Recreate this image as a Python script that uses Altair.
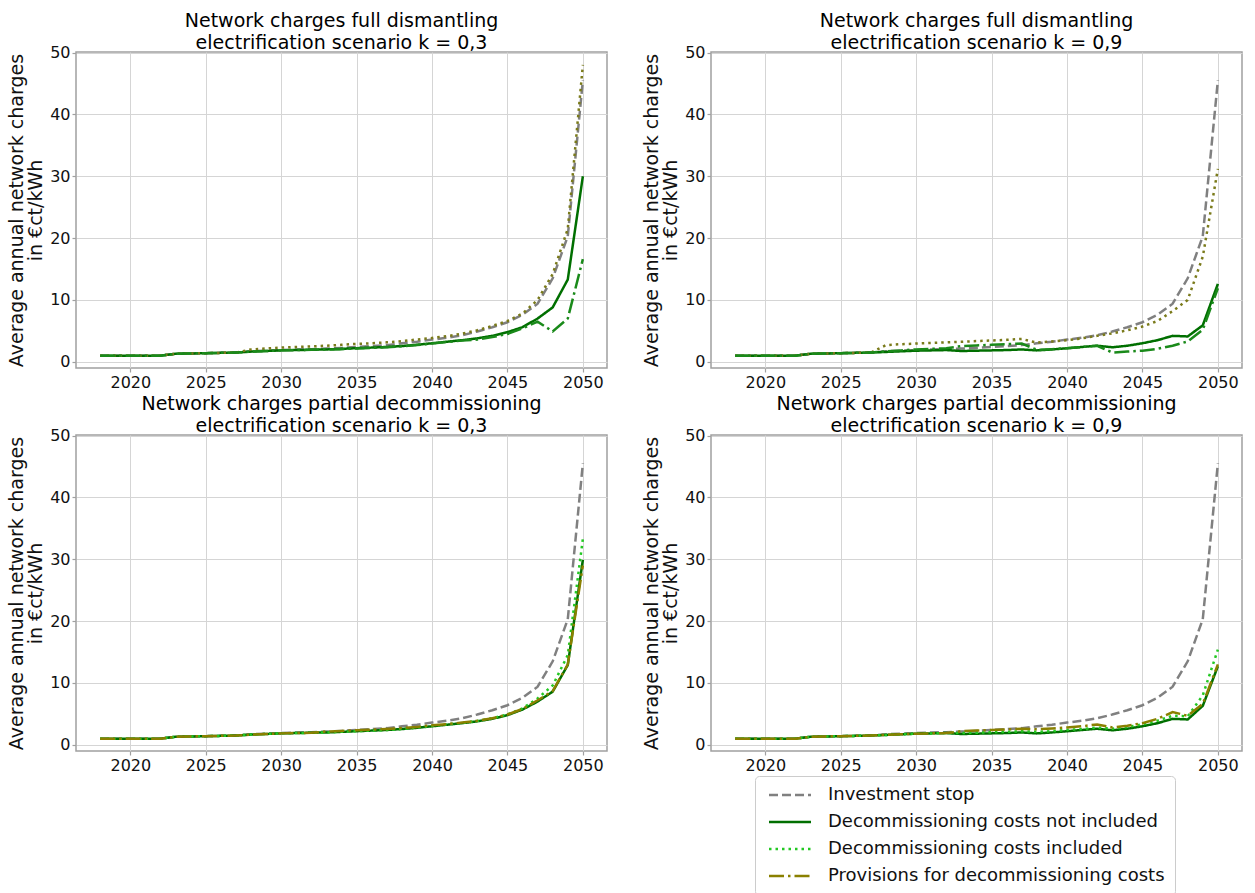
import altair as alt
import pandas as pd

YEARS = list(range(2018, 2051))
SERIES = [
    "Investment stop",
    "Decommissioning costs not included",
    "Decommissioning costs included",
    "Provisions for decommissioning costs",
]

# Investment stop (same in every panel)
INV = [1.0, 1.0, 1.0, 1.0, 1.0, 1.3, 1.35, 1.4, 1.45, 1.5,
       1.7, 1.8, 1.9, 2.0, 2.05, 2.15, 2.25, 2.4, 2.55, 2.7,
       3.0, 3.25, 3.6, 3.9, 4.3, 4.9, 5.6, 6.4, 7.6, 9.4,
       13.5, 20.3, 45.5]

# Full dismantling, k = 0,3
FD03_NOT = [1.0, 1.0, 1.0, 1.0, 1.0, 1.3, 1.35, 1.4, 1.45, 1.5,
            1.65, 1.75, 1.85, 1.9, 1.95, 2.0, 2.1, 2.2, 2.3, 2.4,
            2.55, 2.75, 3.0, 3.25, 3.5, 3.8, 4.2, 4.8, 5.6, 7.0,
            8.8, 13.3, 30.0]
FD03_INC = [1.0, 1.0, 1.0, 1.0, 1.0, 1.3, 1.35, 1.4, 1.45, 1.5,
            2.0, 2.15, 2.3, 2.4, 2.5, 2.6, 2.75, 2.9, 3.0, 3.15,
            3.35, 3.6, 3.85, 4.15, 4.55, 5.1, 5.8, 6.6, 7.8, 10.0,
            14.2, 21.5, 48.0]
FD03_PROV = [1.0, 1.0, 1.0, 1.0, 1.0, 1.3, 1.35, 1.4, 1.45, 1.5,
             1.65, 1.75, 1.85, 1.9, 1.95, 2.0, 2.05, 2.15, 2.25, 2.35,
             2.5, 2.7, 2.95, 3.2, 3.45, 3.6, 4.0, 4.5, 5.4, 6.5,
             4.9, 7.0, 16.6]

# Full dismantling, k = 0,9
FD09_NOT = [1.0, 1.0, 1.0, 1.0, 1.0, 1.3, 1.35, 1.4, 1.45, 1.5,
            1.6, 1.7, 1.8, 1.85, 1.9, 1.75, 1.8, 1.85, 1.9, 2.0,
            1.85, 2.0, 2.2, 2.4, 2.6, 2.35, 2.6, 3.0, 3.5, 4.2,
            4.1, 5.9, 12.6]
FD09_INC = [1.0, 1.0, 1.0, 1.0, 1.0, 1.3, 1.35, 1.4, 1.45, 1.5,
            2.7, 2.85, 2.95, 3.05, 3.15, 3.25, 3.35, 3.45, 3.55, 3.7,
            3.1, 3.3, 3.5, 3.8, 4.2, 4.6, 5.1, 5.7, 6.6, 8.2,
            10.0, 17.0, 31.2]
FD09_PROV = [1.0, 1.0, 1.0, 1.0, 1.0, 1.3, 1.35, 1.4, 1.45, 1.5,
             1.7, 1.85, 2.0, 2.1, 2.2, 2.55, 2.65, 2.75, 2.85, 2.95,
             1.95, 2.05, 2.2, 2.4, 2.6, 1.5, 1.65, 1.8, 2.1, 2.6,
             3.3, 5.2, 11.9]

# Partial decommissioning, k = 0,3
PD03_NOT = [1.0, 1.0, 1.0, 1.0, 1.0, 1.3, 1.35, 1.4, 1.45, 1.5,
            1.65, 1.75, 1.85, 1.9, 1.95, 2.0, 2.1, 2.2, 2.3, 2.4,
            2.55, 2.75, 3.0, 3.25, 3.5, 3.8, 4.2, 4.8, 5.7, 7.0,
            8.6, 12.9, 29.9]
PD03_INC = [1.0, 1.0, 1.0, 1.0, 1.0, 1.3, 1.35, 1.4, 1.45, 1.5,
            1.65, 1.75, 1.85, 1.9, 1.95, 2.0, 2.1, 2.2, 2.3, 2.4,
            2.55, 2.8, 3.05, 3.3, 3.55, 3.85, 4.3, 4.9, 5.9, 7.5,
            9.6, 14.5, 33.3]
PD03_PROV = [1.0, 1.0, 1.0, 1.0, 1.0, 1.3, 1.35, 1.4, 1.45, 1.5,
             1.65, 1.75, 1.85, 1.9, 1.95, 2.15, 2.25, 2.35, 2.45, 2.55,
             2.7, 2.9, 3.15, 3.35, 3.6, 3.9, 4.3, 4.9, 5.8, 7.2,
             8.7, 13.0, 29.0]

# Partial decommissioning, k = 0,9
PD09_NOT = [1.0, 1.0, 1.0, 1.0, 1.0, 1.3, 1.35, 1.4, 1.45, 1.5,
            1.6, 1.7, 1.8, 1.85, 1.9, 1.75, 1.8, 1.85, 1.9, 2.0,
            1.85, 2.0, 2.2, 2.4, 2.6, 2.35, 2.6, 3.0, 3.5, 4.2,
            4.1, 6.3, 12.7]
PD09_INC = [1.0, 1.0, 1.0, 1.0, 1.0, 1.3, 1.35, 1.4, 1.45, 1.5,
            1.6, 1.7, 1.8, 1.85, 1.9, 1.9, 1.95, 2.05, 2.1, 2.2,
            2.1, 2.2, 2.4, 2.55, 2.8, 2.6, 2.9, 3.3, 3.9, 4.7,
            4.6, 8.0, 15.4]
PD09_PROV = [1.0, 1.0, 1.0, 1.0, 1.0, 1.3, 1.35, 1.4, 1.45, 1.5,
             1.6, 1.7, 1.8, 1.85, 1.9, 2.2, 2.3, 2.4, 2.5, 2.6,
             2.5, 2.65, 2.8, 3.0, 3.3, 2.8, 3.1, 3.5, 4.2, 5.3,
             4.7, 6.6, 13.0]

X_TICKS = [2020, 2025, 2030, 2035, 2040, 2045, 2050]
Y_TICKS = [0, 10, 20, 30, 40, 50]
Y_TITLE = ["Average annual network charges", "in €ct/kWh"]

COLORS_TOP = ["#808080", "#006f00", "#7a7a1a", "#1a8a1a"]
COLORS_BOTTOM = ["#808080", "#006f00", "#22c822", "#8a8000"]
DASHES = [[9, 4], [1, 0], [2.5, 4], [15, 4, 2.5, 4]]

FONT = "DejaVu Sans"
W, H = 531, 316


def panel(values, title, colors, legend=None):
    rows = []
    for name, vals in zip(SERIES, values):
        for yr, v in zip(YEARS, vals):
            rows.append({"year": yr, "value": v, "series": name})
    df = pd.DataFrame(rows)
    color_kw = dict(scale=alt.Scale(domain=SERIES, range=colors))
    dash_kw = dict(scale=alt.Scale(domain=SERIES, range=DASHES))
    if legend is None:
        color_kw["legend"] = None
        dash_kw["legend"] = None
    else:
        color_kw["legend"] = legend
        dash_kw["legend"] = legend
    return (
        alt.Chart(df)
        .mark_line(strokeWidth=2.5, clip=True)
        .encode(
            x=alt.X("year:Q",
                    scale=alt.Scale(domain=[2016.4, 2051.6], nice=False, zero=False),
                    axis=alt.Axis(values=X_TICKS, format="d", title=None)),
            y=alt.Y("value:Q",
                    scale=alt.Scale(domain=[-1.0, 50.1], nice=False, zero=False),
                    axis=alt.Axis(values=Y_TICKS, title=Y_TITLE)),
            color=alt.Color("series:N", **color_kw),
            strokeDash=alt.StrokeDash("series:N", **dash_kw),
            order=alt.Order("year:Q"),
        )
        .properties(
            width=W, height=H,
            title=alt.TitleParams(text=title, anchor="middle", frame="group",
                                  fontSize=19, lineHeight=22, offset=-8,
                                  font=FONT, fontWeight="normal", color="black"),
        )
    )


legend = alt.Legend(
    title=None, orient="none", legendX=44, legendY=341,
    symbolType="M-1,0H7.4", symbolSize=100, symbolStrokeWidth=2.5,
    labelFontSize=18, labelFont=FONT, labelColor="#111111", labelOffset=45,
    rowPadding=9, padding=10, strokeColor="#cccccc", fillColor="white",
    cornerRadius=4, labelLimit=400,
)

tl = panel([INV, FD03_NOT, FD03_INC, FD03_PROV],
           ["Network charges full dismantling", " electrification scenario k = 0,3"], COLORS_TOP)
tr = panel([INV, FD09_NOT, FD09_INC, FD09_PROV],
           ["Network charges full dismantling", " electrification scenario k = 0,9"], COLORS_TOP)
bl = panel([INV, PD03_NOT, PD03_INC, PD03_PROV],
           ["Network charges partial decommissioning", " electrification scenario k = 0,3"], COLORS_BOTTOM)
br = panel([INV, PD09_NOT, PD09_INC, PD09_PROV],
           ["Network charges partial decommissioning", " electrification scenario k = 0,9"], COLORS_BOTTOM,
           legend=legend)

top = alt.hconcat(tl, tr, spacing=33).resolve_scale(color="independent", strokeDash="independent")
bottom = alt.hconcat(bl, br, spacing=33).resolve_scale(color="independent", strokeDash="independent")

chart = (
    alt.vconcat(top, bottom, spacing=2)
    .resolve_scale(color="independent", strokeDash="independent")
    .properties(padding={"left": 6, "top": 10, "right": 0, "bottom": 0}, background="white")
    .configure_view(stroke="#a0a0a0", strokeWidth=1.5)
    .configure_axis(
        grid=True, gridColor="#d5d5d5", gridWidth=1,
        domain=False, tickColor="#a0a0a0", tickSize=4, tickWidth=1.2,
        labelFont=FONT, labelFontSize=16, labelColor="#111111", labelPadding=2,
        titleFont=FONT, titleFontSize=19, titleFontWeight="normal", titleColor="#111111",
        titleLineHeight=19, titlePadding=4,
    )
)

chart.save("out.html", embed_options={"renderer": "svg", "actions": False})
